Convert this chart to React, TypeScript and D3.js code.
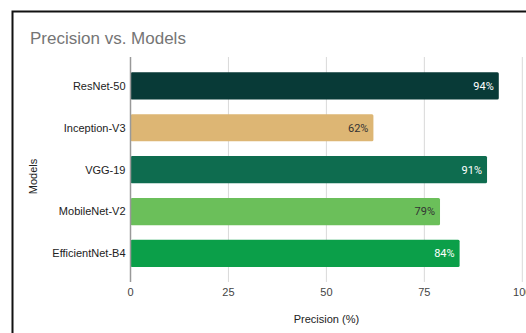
import React from "react";
import * as d3 from "d3";

// Model names, precision values and bar colours
const models = ["ResNet-50", "Inception-V3", "VGG-19", "MobileNet-V2", "EfficientNet-B4"];
const precision = [94, 62, 91, 79, 84];
const barColors = ["#083a37", "#ddb674", "#0e6c4f", "#6bbf5a", "#0b9f49"];
const labelColors = ["#ffffff", "#333333", "#ffffff", "#333333", "#ffffff"];
const xTicks = [0, 25, 50, 75, 100];

const W = 526;
const H = 333;
const plotLeft = 130.5;
const plotRight = 522.3;
const gridTop = 57;
const gridBottom = 282;

export default function App() {
  const x = d3.scaleLinear().domain([0, 100]).range([plotLeft, plotRight]);
  const y = d3
    .scaleBand<string>()
    .domain(models)
    .range([64.9, 274.4])
    .paddingInner(0.35)
    .paddingOuter(0.175);
  const sans = "Arial, 'Liberation Sans', sans-serif";

  return (
    <svg
      width={W}
      height={H}
      viewBox={`0 0 ${W} ${H}`}
      style={{ position: "fixed", left: 0, top: 0, background: "#fff" }}
    >
      <rect x={0} y={0} width={W} height={H} fill="#fff" />
      <rect x={12.5} y={11.5} width={W + 20} height={H + 20} fill="#fff" stroke="#111" strokeWidth={2} />
      <text x={30} y={43.5} fontFamily={sans} fontSize={17} fill="#757575">
        Precision vs. Models
      </text>

      {/* vertical gridlines */}
      {xTicks.slice(1).map((t) => (
        <line key={t} x1={x(t)} x2={x(t)} y1={gridTop} y2={gridBottom} stroke="#d9d9d9" strokeWidth={1} />
      ))}

      {/* bars */}
      {models.map((m, i) => (
        <g key={m}>
          <rect
            x={x(0)}
            y={y(m)}
            width={x(precision[i]) - x(0)}
            height={y.bandwidth()}
            fill={barColors[i]}
            rx={1.5}
          />
          <text
            x={x(precision[i]) - 5}
            y={(y(m) as number) + y.bandwidth() / 2}
            dy="0.35em"
            textAnchor="end"
            fontFamily="Roboto, sans-serif"
            fontSize={11}
            fill={labelColors[i]}
          >
            {precision[i]}%
          </text>
          <text
            x={plotLeft - 5}
            y={(y(m) as number) + y.bandwidth() / 2}
            dy="0.35em"
            textAnchor="end"
            fontFamily={sans}
            fontSize={11}
            fill="#222"
          >
            {m}
          </text>
        </g>
      ))}

      {/* baseline axis */}
      <line x1={x(0)} x2={x(0)} y1={gridTop} y2={gridBottom} stroke="#999" strokeWidth={1.5} />

      {/* x tick labels */}
      {xTicks.map((t) => (
        <text key={t} x={x(t)} y={295.5} textAnchor="middle" fontFamily={sans} fontSize={11} fill="#444">
          {t}
        </text>
      ))}

      <text x={(plotLeft + plotRight) / 2} y={322.5} textAnchor="middle" fontFamily={sans} fontSize={11} fill="#222">
        Precision (%)
      </text>
      <text
        transform={`translate(37,176.5) rotate(-90)`}
        textAnchor="middle"
        fontFamily={sans}
        fontSize={11}
        fill="#222"
      >
        Models
      </text>
    </svg>
  );
}
